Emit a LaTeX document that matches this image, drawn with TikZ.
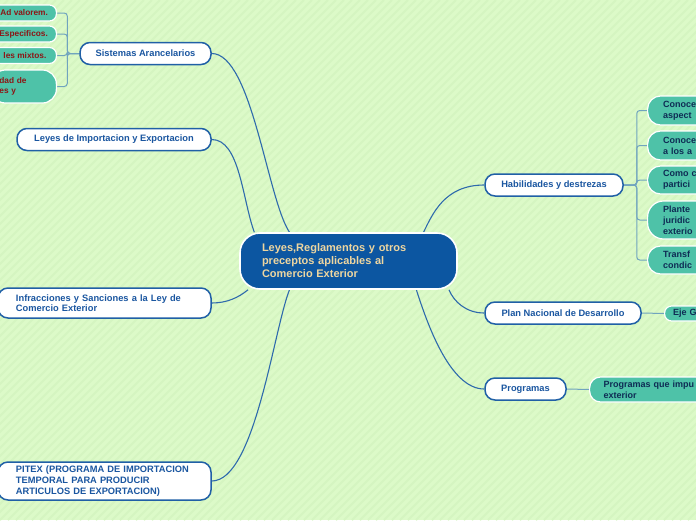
\documentclass[tikz,border=0pt]{standalone}
\usepackage{fontspec}
\setmainfont{Liberation Sans}
\usetikzlibrary{positioning,backgrounds}
\definecolor{MapBg}{RGB}{220,250,200}
\definecolor{MapStripe}{RGB}{213,245,193}
\definecolor{CoreFill}{RGB}{12,86,161}
\definecolor{CoreText}{RGB}{238,214,160}
\definecolor{TopicLine}{RGB}{32,96,166}
\definecolor{TopicText}{RGB}{26,86,160}
\definecolor{LeafFill}{RGB}{78,194,168}
\definecolor{LeafRed}{RGB}{140,22,22}
\definecolor{LeafNavy}{RGB}{14,44,84}
\definecolor{BranchLine}{RGB}{46,106,172}
\definecolor{BracketLine}{RGB}{112,164,190}

\tikzset{
  core/.style={fill=CoreFill, draw=white, line width=1.6pt, rounded corners=20pt,
    text=CoreText, font=\bfseries\fontsize{11}{13}\selectfont, inner sep=0pt},
  topic/.style={fill=white, draw=TopicLine, line width=1.5pt, rounded corners=10pt,
    text=TopicText, font=\bfseries\fontsize{9.3}{10.6}\selectfont, inner sep=0pt,
    minimum height=22pt},
  leaf/.style={fill=LeafFill, draw=white, line width=1.2pt, inner sep=0pt},
  leafl/.style={leaf, text=LeafRed, anchor=east, font=\bfseries\fontsize{8.3}{10}\selectfont},
  leafr/.style={leaf, text=LeafNavy, anchor=west, align=left, text width=64,
    font=\bfseries\fontsize{9}{11}\selectfont},
  branch/.style={draw=BranchLine, line width=1.1pt},
  bracket/.style={draw=BracketLine, line width=1pt, rounded corners=3pt}
}

\begin{document}
\begin{tikzpicture}[x=1pt,y=-1pt]
\useasboundingbox (0,0) rectangle (696,520);
\clip (0,0) rectangle (696,520);
\begin{scope}[on background layer]
  \fill[MapBg] (0,0) rectangle (696,520);
  \foreach \i in {0,8,...,1216}
    \draw[MapStripe, line width=2pt] (\i-520,520) -- (\i,0);
\end{scope}

% centre
\node[core, minimum width=217, minimum height=56, text width=173, align=left] (ctr) at (348.5,261)
  {Leyes,Reglamentos y otros\\preceptos aplicables al\\Comercio Exterior};

% left topics
\node[topic, minimum width=131] (sis) at (145.5,53.5) {Sistemas Arancelarios};
\node[topic, minimum width=194] (ley) at (114,139.5) {Leyes de Importacion y Exportacion};
\node[topic, minimum width=213, minimum height=30, text width=177, align=left] (inf) at (104.5,303)
  {Infracciones y Sanciones a la Ley de\\Comercio Exterior};
\node[topic, minimum width=213, minimum height=38, text width=177, align=left] (pit) at (104.5,481)
  {PITEX (PROGRAMA DE IMPORTACION\\TEMPORAL PARA PRODUCIR\\ARTICULOS DE EXPORTACION)};

% right topics
\node[topic, minimum width=138] (hab) at (554,185) {Habilidades y destrezas};
\node[topic, minimum width=156] (pnd) at (563,313) {Plan Nacional de Desarrollo};
\node[topic, minimum width=81] (prg) at (525.5,389) {Programas};

% leaves of Sistemas Arancelarios
\node[leafl, minimum height=16, inner xsep=8.5, rounded corners=7] (sa1) at (57,13) {Ad valorem.};
\node[leafl, minimum height=16, inner xsep=8.5, rounded corners=7] (sa2) at (57,34) {Especificos.};
\node[leafl, minimum height=16, inner xsep=10, rounded corners=7] (sa3) at (57,55.5) {les mixtos.};
\node[leafl, minimum height=33, inner xsep=8, rounded corners=14, text width=49, align=left] (sa4) at (57,86.5)
  {dad de\\es y};

% leaves of Habilidades y destrezas
\node[leafr, minimum height=29, inner xsep=15.5, rounded corners=13] (hd1) at (647,110.5) {Conoce\\aspect};
\node[leafr, minimum height=29, inner xsep=15.5, rounded corners=13] (hd2) at (647,145.5) {Conoce\\a los a};
\node[leafr, minimum height=28, inner xsep=15.5, rounded corners=13] (hd3) at (647,180) {Como c\\partici};
\node[leafr, minimum height=38, inner xsep=15.5, rounded corners=16] (hd4) at (647,220) {Plante\\juridic\\exterio};
\node[leafr, minimum height=28, inner xsep=15.5, rounded corners=13] (hd5) at (647,260) {Transf\\condic};

\node[leafr, minimum height=15, inner xsep=8.5, rounded corners=7] (eje) at (664,313.5) {Eje G};
\node[leafr, minimum height=25, inner xsep=14, rounded corners=11, text width=110] (pqi) at (589,389.5)
  {Programas que impu\\exterior};

\begin{scope}[on background layer]
  \draw[branch] (sis.east) .. controls +(40,0) and +(-22,-33) .. (ctr.154);
  \draw[branch] (ley.east) .. controls +(28,0) and +(-12,-33) .. (ctr.163);
  \draw[branch] (inf.east) .. controls +(15,0) and +(-10,8) .. (ctr.196);
  \draw[branch] (pit.east) .. controls +(43,0) and +(-16,41) .. (ctr.206);
  \draw[branch] (hab.west) .. controls +(-40,0) and +(9,-18) .. (ctr.21);
  \draw[branch] (pnd.west) .. controls +(-18,0) and +(5,12) .. (ctr.-16);
  \draw[branch] (prg.west) .. controls +(-35,0) and +(10,31) .. (ctr.-23);
  \foreach \s in {sa1,sa2,sa3,sa4}
    \draw[bracket] (sis.west) -- ++(-12,0) |- (\s.east);
  \foreach \s in {hd1,hd2,hd3,hd4,hd5}
    \draw[bracket] (hab.east) -- ++(13,0) |- (\s.west);
  \draw[bracket] (pnd.east) -- (eje.west);
  \draw[bracket] (prg.east) -- (pqi.west);
\end{scope}
\end{tikzpicture}
\end{document}
